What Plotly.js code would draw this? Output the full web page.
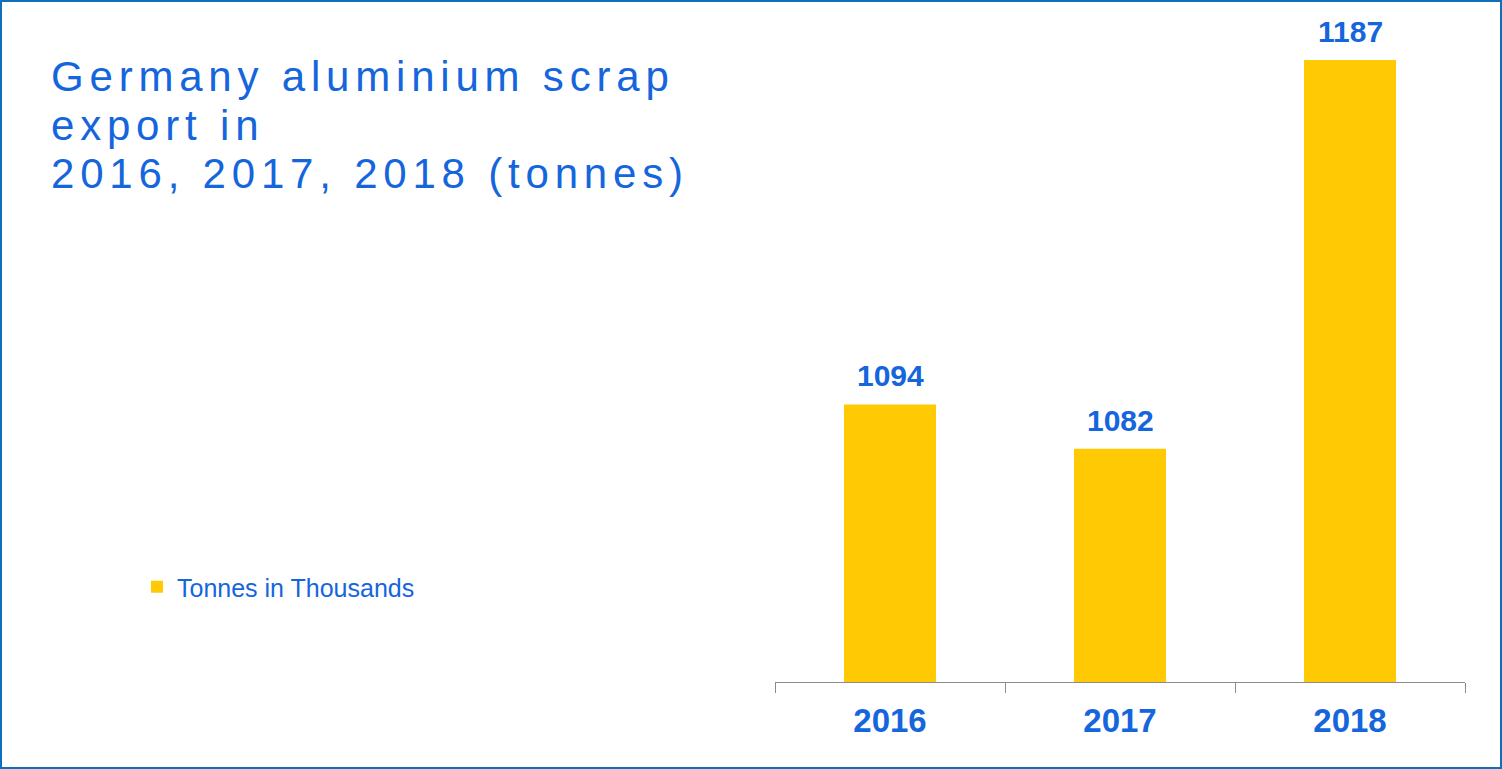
<!DOCTYPE html>
<html>
<head>
<meta charset="utf-8">
<script src="https://cdn.plot.ly/plotly-3.0.1.min.js"></script>
<style>
  html, body { margin: 0; padding: 0; background: #fff; }
  #wrap { width: 1502px; height: 769px; box-sizing: border-box; border: 2px solid #0f6fba; position: relative; overflow: hidden; }
  #chart { width: 1498px; height: 765px; }
  #chart .annotation-text.ttl { letter-spacing: 5.8px; }
</style>
</head>
<body>
<div id="wrap"><div id="chart"></div></div>
<script>
// ---- data ----
const categories = ["2016", "2017", "2018"];
const values = [1094, 1082, 1187];
const seriesName = "Tonnes in Thousands";
const titleLines = ["Germany aluminium scrap", "export in", "2016, 2017, 2018 (tonnes)"];

// ---- layout helpers ----
const W = 1498, H = 765;
const M = { l: 773, r: 35, t: 10, b: 85 };
const PW = W - M.l - M.r, PH = H - M.t - M.b;
const px2x = p => (p - M.l) / PW;
const py2y = p => (H - M.b - p) / PH;

const blue = "#1565dc";
const yellow = "#ffc904";

const trace = {
  type: "bar",
  x: categories,
  y: values,
  name: seriesName,
  width: 0.4,
  marker: { color: yellow },
  hoverinfo: "x+y",
  showlegend: true
};

const annotations = [];
// data labels from the data arrays, placed via data scales (category index on x)
categories.forEach((c, i) => {
  annotations.push({
    xref: "x", yref: "y", x: i, y: values[i],
    text: String(values[i]),
    showarrow: false, xanchor: "center", yanchor: "bottom", yshift: 10,
    font: { family: "Liberation Sans, Arial, sans-serif", size: 30, color: blue, weight: "bold" }
  });
});
// title lines
const titleMid = [75, 123, 171];
titleLines.forEach((t, i) => {
  annotations.push({
    xref: "paper", yref: "paper", x: px2x(47), y: py2y(titleMid[i]),
    text: t, showarrow: false, xanchor: "left", yanchor: "middle", align: "left",
    font: { family: "Liberation Sans, Arial, sans-serif", size: 42, color: blue }
  });
});

const layout = {
  width: W, height: H,
  margin: M,
  paper_bgcolor: "#ffffff",
  plot_bgcolor: "#ffffff",
  bargap: 0.6,
  xaxis: {
    type: "category",
    range: [-0.5, 2.5],
    showline: true, linecolor: "#8c8c8c", linewidth: 1,
    ticks: "outside", tickson: "boundaries", ticklen: 10, tickcolor: "#8c8c8c", tickwidth: 1,
    ticklabelstandoff: 9,
    showgrid: false, zeroline: false,
    tickfont: { family: "Liberation Sans, Arial, sans-serif", size: 33, color: blue, weight: "bold" }
  },
  yaxis: {
    visible: false,
    range: [1019, 1200],
    showgrid: false, zeroline: false
  },
  showlegend: true,
  legend: {
    x: px2x(135), y: py2y(585), xanchor: "left", yanchor: "middle",
    bgcolor: "rgba(0,0,0,0)", borderwidth: 0,
    itemwidth: 30,
    font: { family: "Liberation Sans, Arial, sans-serif", size: 25, color: blue }
  },
  annotations: annotations
};

Plotly.newPlot("chart", [trace], layout, { displayModeBar: false }).then(() => {
  const texts = document.querySelectorAll("#chart .annotation-text");
  texts.forEach(t => {
    if (titleLines.includes(t.textContent)) t.classList.add("ttl");
  });
});
</script>
</body>
</html>
